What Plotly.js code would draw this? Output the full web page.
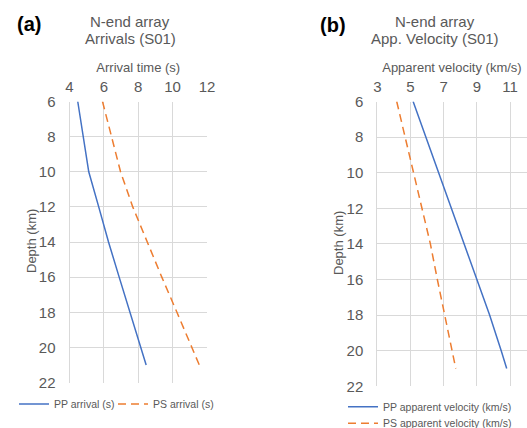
<!DOCTYPE html>
<html><head><meta charset="utf-8">
<script src="https://cdn.plot.ly/plotly-3.0.1.min.js"></script>
<style>html,body{margin:0;padding:0;background:#fff;overflow:hidden}</style>
</head><body><div id="chart" style="width:527px;height:428px"></div>
<script>
// Panel (a): arrivals
const depthA = [6, 8, 10, 12, 14, 16, 18, 20, 21];
const ppArrival = [4.48, 4.79, 5.12, 5.7, 6.27, 6.89, 7.52, 8.14, 8.46];
const psArrival = [5.92, 6.43, 6.97, 7.68, 8.52, 9.37, 10.25, 11.12, 11.55];
// Panel (b): apparent velocity
const depthB = [6, 8, 10, 12, 14, 16, 18, 20, 21];
const ppVelocity = [5.16, 5.93, 6.71, 7.47, 8.23, 9.0, 9.77, 10.47, 10.8];
const psVelocity = [4.17, 4.68, 5.2, 5.71, 6.2, 6.62, 7.06, 7.5, 7.73];
const depthTicks = [6, 8, 10, 12, 14, 16, 18, 20, 22];
const timeTicks = [4, 6, 8, 10, 12];
const velTicks = [3, 5, 7, 9, 11];

const W = 527, H = 428;
const blue = '#4472C4', orange = '#ED7D31', txt = '#595959', grid = '#D9D9D9';
const F = 'Liberation Sans, Arial, sans-serif';

const traces = [
  {x: ppArrival, y: depthA, xaxis: 'x', yaxis: 'y', mode: 'lines', name: 'PP arrival (s)',
   line: {color: blue, width: 1.5}, legend: 'legend'},
  {x: psArrival, y: depthA, xaxis: 'x', yaxis: 'y', mode: 'lines', name: 'PS arrival (s)',
   line: {color: orange, width: 1.5, dash: '8px,5px'}, legend: 'legend2'},
  {x: ppVelocity, y: depthB, xaxis: 'x2', yaxis: 'y2', mode: 'lines', name: 'PP apparent velocity (km/s)',
   line: {color: blue, width: 1.5}, legend: 'legend3'},
  {x: psVelocity, y: depthB, xaxis: 'x2', yaxis: 'y2', mode: 'lines', name: 'PS apparent velocity (km/s)',
   line: {color: orange, width: 1.5, dash: '8px,5px'}, legend: 'legend4'}
];

function xax(dom, rng, ticks, title, anchor) {
  return {domain: dom, range: rng, side: 'top', anchor: anchor, tickvals: ticks, ticktext: ticks.map(String),
    showgrid: true, gridcolor: grid, gridwidth: 1, zeroline: false, showline: false, ticks: '',
    ticklabelstandoff: 6, automargin: false,
    tickfont: {family: F, size: 15, color: txt},
    title: {text: title, font: {family: F, size: 13, color: txt}, standoff: 1}};
}
function yax(dom, anchor) {
  return {domain: dom, range: [22, 6], anchor: anchor, tickvals: depthTicks, ticktext: depthTicks.map(String),
    showgrid: true, gridcolor: grid, gridwidth: 1, zeroline: false, showline: true, linecolor: grid, ticks: '',
    ticklabelstandoff: 10, automargin: false,
    tickfont: {family: F, size: 15, color: txt}};
}
function leg(x, y) {
  return {orientation: 'v', x: x / W, y: (H - y) / H, xanchor: 'left', yanchor: 'middle',
    font: {family: F, size: 10.5, color: txt}, bgcolor: 'rgba(0,0,0,0)', itemwidth: 30, tracegroupgap: 0};
}
function ann(text, x, y, size, color, extra) {
  return Object.assign({text: text, x: x / W, y: (H - y) / H, xref: 'paper', yref: 'paper',
    xanchor: 'center', yanchor: 'middle', showarrow: false, font: {family: F, size: size, color: color}}, extra || {});
}

const layout = {
  width: W, height: H, margin: {l: 0, r: 0, t: 0, b: 0, autoexpand: false},
  paper_bgcolor: '#fff', plot_bgcolor: '#fff',
  xaxis: xax([69.5 / W, 207 / W], [4, 12], timeTicks, 'Arrival time (s)', 'y'),
  yaxis: yax([(H - 382.5) / H, (H - 101.5) / H], 'x'),
  xaxis2: xax([377.3 / W, 526.6 / W], [3, 12], velTicks, 'Apparent velocity (km/s)', 'y2'),
  yaxis2: yax([(H - 386.3) / H, (H - 101.5) / H], 'x2'),
  legend: leg(14, 404),
  legend2: leg(113, 404),
  legend3: leg(343, 406.7),
  legend4: leg(343, 423.3),
  showlegend: true,
  annotations: [
    ann('<b>(a)</b>', 15, 24.5, 20, '#000', {xanchor: 'left'}),
    ann('<b>(b)</b>', 318, 25, 20, '#000', {xanchor: 'left'}),
    ann('N-end array', 130, 22, 15, txt),
    ann('Arrivals (S01)', 130, 39, 15, txt),
    ann('N-end array', 435, 22, 15, txt),
    ann('App. Velocity (S01)', 435, 39, 15, txt),
    ann('Depth (km)', 31, 241, 13, txt, {textangle: -90}),
    ann('Depth (km)', 338, 243, 13, txt, {textangle: -90})
  ]
};

Plotly.newPlot('chart', traces, layout, {displayModeBar: false, staticPlot: true});
</script></body></html>
